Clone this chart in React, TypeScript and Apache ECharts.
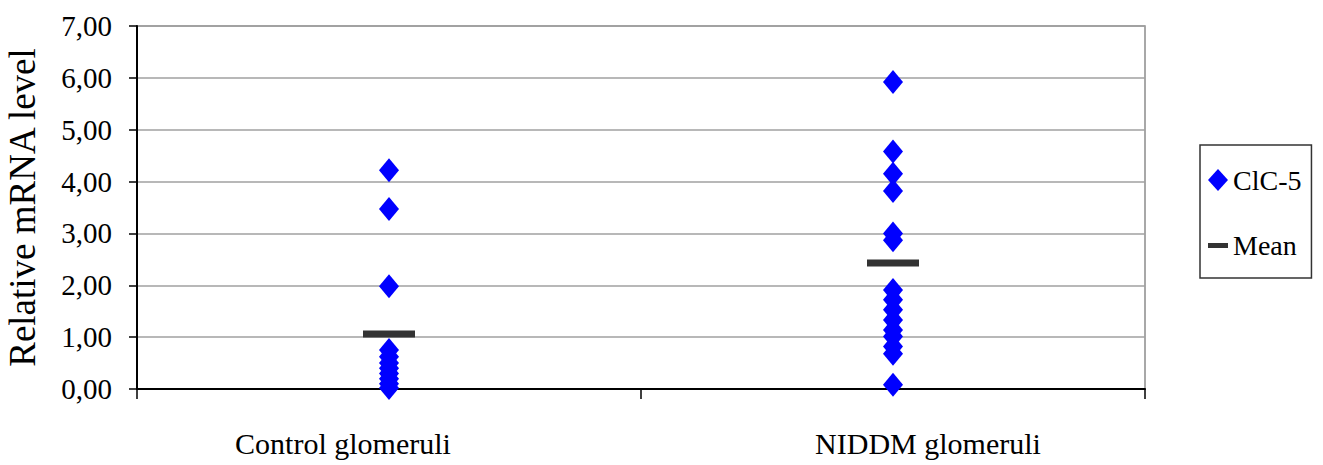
import React, { useEffect, useRef } from "react";
import * as echarts from "echarts";

const categories = ["Control glomeruli", "NIDDM glomeruli"];
const controlValues = [4.22, 3.47, 1.98, 0.75, 0.62, 0.5, 0.4, 0.3, 0.2, 0.1, 0.02];
const niddmValues = [5.92, 4.58, 4.15, 3.82, 3.0, 2.87, 1.91, 1.72, 1.53, 1.33, 1.14, 1.01, 0.82, 0.68, 0.08];
const meanValues = [1.06, 2.43];
const seriesNames = ["ClC-5", "Mean"];
const yTicks = { min: 0, max: 7, interval: 1 };

const FONT = "Liberation Serif, Times New Roman, serif";

export default function App() {
  const ref = useRef<HTMLDivElement>(null);
  useEffect(() => {
    if (!ref.current) return;
    const chart = echarts.init(ref.current, undefined, { renderer: "svg" });
    const points: [number, number][] = [];
    controlValues.forEach((v) => points.push([0, v]));
    niddmValues.forEach((v) => points.push([1, v]));
    const means: [number, number][] = meanValues.map((v, i) => [i, v]);
    chart.setOption({
      animation: false,
      backgroundColor: "#ffffff",
      textStyle: { fontFamily: FONT },
      grid: {
        left: 137,
        right: 178,
        top: 26,
        bottom: 76,
        outerBoundsMode: "none",
        containLabel: false,
        show: true,
        borderColor: "#8c8c8c",
        borderWidth: 1.5,
        backgroundColor: "transparent",
      },
      legend: {
        orient: "vertical",
        left: 1200,
        top: 145,
        width: 118,
        padding: [20, 10, 18, 8],
        itemGap: 35,
        itemWidth: 20,
        itemHeight: 22,
        itemTextGap: 8,
        borderColor: "#333333",
        borderWidth: 1.5,
        backgroundColor: "#ffffff",
        textStyle: { fontFamily: FONT, fontSize: 28, color: "#000000", lineHeight: 30 },
        data: [
          { name: seriesNames[0], icon: "diamond" },
          { name: seriesNames[1], icon: "path://M0,0M0,9L20,9L20,14L0,14ZM20,22" },
        ],
      },
      xAxis: {
        type: "category",
        data: categories,
        boundaryGap: true,
        axisLine: { lineStyle: { color: "#000000", width: 2 } },
        axisTick: { show: true, length: 10, lineStyle: { color: "#000000", width: 1.5 } },
        axisLabel: {
          margin: 39,
          color: "#000000",
          fontFamily: FONT,
          fontSize: 30,
          lineHeight: 30,
          formatter: (v: string) => (v === categories[0] ? `{a|${v}}` : `{b|${v}}`),
          rich: {
            a: { fontFamily: FONT, fontSize: 30, lineHeight: 30, color: "#000000", padding: [0, 92, 0, 0] },
            b: { fontFamily: FONT, fontSize: 30, lineHeight: 30, color: "#000000", padding: [0, 0, 0, 70] },
          },
        },
        splitLine: { show: false },
      },
      yAxis: {
        type: "value",
        min: yTicks.min,
        max: yTicks.max,
        interval: yTicks.interval,
        name: "Relative mRNA level",
        nameLocation: "middle",
        nameRotate: 90,
        nameGap: 96,
        nameTextStyle: { fontFamily: FONT, fontSize: 37, color: "#000000" },
        axisLine: { show: true, lineStyle: { color: "#000000", width: 2 } },
        axisTick: { show: true, length: 8, lineStyle: { color: "#000000", width: 1.5 } },
        axisLabel: {
          margin: 25,
          color: "#000000",
          fontFamily: FONT,
          fontSize: 29,
          formatter: (v: number) => v.toFixed(2).replace(".", ","),
        },
        splitLine: { show: true, lineStyle: { color: "#a0a0a0", width: 1.5 } },
      },
      series: [
        {
          name: seriesNames[0],
          type: "scatter",
          symbol: "diamond",
          symbolSize: [20, 24],
          itemStyle: { color: "#0000ff", opacity: 1 },
          data: points,
          z: 3,
        },
        {
          name: seriesNames[1],
          type: "scatter",
          symbol: "rect",
          symbolSize: [52, 7],
          itemStyle: { color: "#333333", opacity: 1 },
          data: means,
          z: 4,
        },
      ],
    });
    return () => chart.dispose();
  }, []);
  return (
    <div
      ref={ref}
      style={{ position: "fixed", left: 0, top: 0, width: 1323, height: 465 }}
    />
  );
}
